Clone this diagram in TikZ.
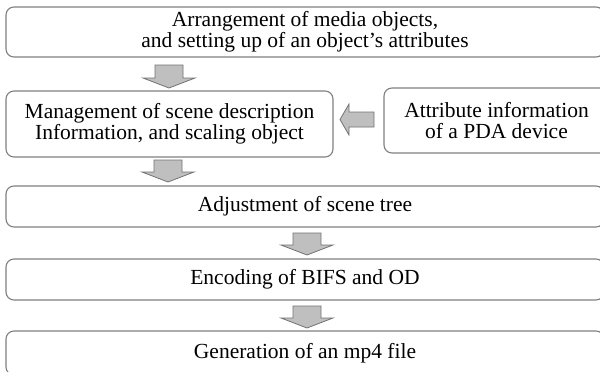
\documentclass[tikz,border=0pt]{standalone}
\usepackage{fontspec}
\setmainfont{Liberation Serif}
\begin{document}
\begin{tikzpicture}[x=1pt,y=-1pt,
  stepbox/.style={draw=black!50, line width=1.1pt, rounded corners=8pt, fill=white,
    inner sep=0pt, align=center, font=\fontsize{21.5}{21}\selectfont},
  blockarrow/.style={draw=black!55, fill=black!25, line width=0.8pt, line join=miter}]
\clip (0,0) rectangle (600,372);
\fill[white] (0,0) rectangle (600,372);
\node[stepbox, minimum width=598pt, minimum height=50pt] (arr) at (305,32)
  {Arrangement of media objects,\\and setting up of an object’s attributes};
\node[stepbox, minimum width=327pt, minimum height=66pt] (man) at (169.5,124)
  {Management of scene description\\Information, and scaling object};
\node[stepbox, minimum width=225pt, minimum height=65pt] (att) at (496.5,120.5)
  {Attribute information\\of a PDA device};
\node[stepbox, minimum width=598pt, minimum height=41pt] (adj) at (305,206.5)
  {Adjustment of scene tree};
\node[stepbox, minimum width=598pt, minimum height=41pt] (enc) at (305,279.5)
  {Encoding of BIFS and OD};
\node[stepbox, minimum width=598pt, minimum height=44pt] (gen) at (305,353)
  {Generation of an mp4 file};
% down block arrows
\newcommand\mydownarrow[3]{%
  \draw[blockarrow] (#1-14,#2) -- (#1+14,#2) -- (#1+14,#3-10) -- (#1+26,#3-10)
    -- (#1,#3) -- (#1-26,#3-10) -- (#1-14,#3-10) -- cycle;}
\mydownarrow{169}{65}{88}
\mydownarrow{168}{160}{182}
\mydownarrow{307}{233}{255}
\mydownarrow{307}{306}{328}
% left block arrow
\draw[blockarrow] (374,112) -- (374,127) -- (349,127) -- (349,135) -- (340,119.5)
  -- (349,104) -- (349,112) -- cycle;
\end{tikzpicture}
\end{document}
